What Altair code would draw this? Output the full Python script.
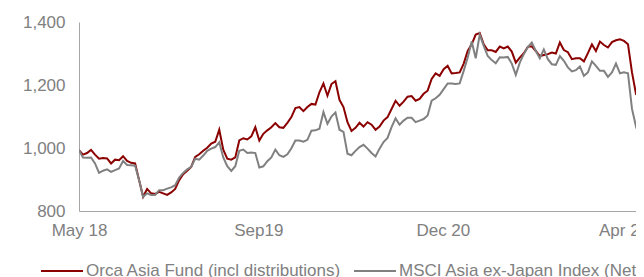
import altair as alt
import pandas as pd

series_names = ["Orca Asia Fund (incl distributions)", "MSCI Asia ex-Japan Index (Net)"]
series_colors = ["#8B0000", "#808080"]

fund = [993, 979, 984, 994, 979, 966, 968, 967, 951, 963,
        961, 974, 959, 953, 951, 898, 845, 870, 856, 854,
        861, 856, 851, 859, 870, 898, 917, 928, 940, 972,
        980, 991, 1001, 1014, 1020, 1058, 995, 966, 963, 970,
        1024, 1031, 1027, 1037, 1066, 1024, 1045, 1056, 1066, 1079,
        1066, 1064, 1080, 1098, 1127, 1130, 1117, 1130, 1140, 1138,
        1177, 1205, 1166, 1203, 1212, 1153, 1130, 1082, 1054, 1064,
        1080, 1068, 1082, 1074, 1058, 1068, 1087, 1098, 1124, 1150,
        1134, 1147, 1163, 1165, 1150, 1156, 1172, 1182, 1219, 1237,
        1229, 1250, 1261, 1237, 1238, 1240, 1268, 1308, 1329, 1360,
        1365, 1329, 1310, 1310, 1305, 1322, 1316, 1322, 1306, 1271,
        1287, 1301, 1321, 1323, 1308, 1292, 1295, 1298, 1303, 1300,
        1335, 1311, 1304, 1282, 1285, 1285, 1275, 1301, 1329, 1308,
        1338, 1327, 1319, 1336, 1342, 1345, 1340, 1329, 1240, 1171,
        1166, 1156]

msci = [993, 970, 969, 970, 951, 921, 928, 932, 924, 930,
        935, 959, 946, 945, 944, 898, 845, 856, 851, 851,
        866, 866, 871, 875, 882, 906, 921, 932, 940, 966,
        963, 976, 991, 998, 1003, 1018, 970, 942, 927, 942,
        991, 995, 984, 986, 984, 938, 942, 958, 970, 995,
        977, 972, 980, 999, 1024, 1024, 1020, 1026, 1055, 1056,
        1061, 1114, 1077, 1100, 1113, 1058, 1051, 982, 977, 991,
        1003, 1010, 998, 984, 973, 998, 1019, 1032, 1066, 1094,
        1074, 1087, 1096, 1096, 1082, 1087, 1092, 1103, 1150, 1158,
        1169, 1187, 1205, 1205, 1203, 1205, 1245, 1287, 1338, 1285,
        1360, 1324, 1292, 1279, 1269, 1288, 1287, 1289, 1268, 1232,
        1271, 1298, 1320, 1335, 1308, 1285, 1313, 1282, 1266, 1264,
        1292, 1277, 1256, 1243, 1247, 1259, 1229, 1240, 1275, 1261,
        1245, 1245, 1226, 1240, 1268, 1237, 1240, 1237, 1124, 1068,
        1087, 1082]

tick_pos = [0, 44.75, 90.8, 135.9]
tick_labels = ["May 18", "Sep19", "Dec 20", "Apr 22"]
y_ticks = [800, 1000, 1200, 1400]

rows = []
for name, vals in zip(series_names, [fund, msci]):
    for i, v in enumerate(vals):
        rows.append({"series": name, "idx": i, "value": v})
df = pd.DataFrame(rows)

FONT = "Liberation Sans"
TXT = "#808080"

label_expr = "{}[indexof({}, datum.value)]".format(
    "[" + ",".join("'" + t + "'" for t in tick_labels) + "]",
    "[" + ",".join(str(p) for p in tick_pos) + "]",
)

base = alt.Chart(df).mark_line(strokeWidth=2, clip=True).encode(
    x=alt.X("idx:Q",
            scale=alt.Scale(domain=[0, 139], nice=False, zero=False),
            axis=alt.Axis(values=tick_pos, labelExpr=label_expr, title=None,
                          grid=False, ticks=False, labelFlush=False,
                          labelPadding=11, labelFontSize=17, labelColor=TXT,
                          labelFont=FONT, domainColor="#A6A6A6", domainWidth=1,
                          labelOverlap=False)),
    y=alt.Y("value:Q",
            scale=alt.Scale(domain=[800, 1400], nice=False, zero=False),
            axis=alt.Axis(values=y_ticks, format=",d", title=None, grid=False,
                          ticks=False, labelPadding=14, labelFontSize=17,
                          labelColor=TXT, labelFont=FONT,
                          domainColor="#A6A6A6", domainWidth=1)),
    color=alt.Color("series:N",
                    scale=alt.Scale(domain=series_names, range=series_colors),
                    legend=alt.Legend(title=None, orient="none", legendX=-39,
                                      legendY=227, direction="horizontal",
                                      symbolType="stroke", symbolSize=1764,
                                      symbolStrokeWidth=2, labelFontSize=17,
                                      labelColor=TXT, labelFont=FONT,
                                      labelOffset=2, columnPadding=8,
                                      padding=0, labelLimit=400)),
)

chart = alt.layer(
    base.transform_filter(alt.datum.series == series_names[0]),
    base.transform_filter(alt.datum.series == series_names[1]),
).properties(
    width=557, height=189,
    autosize=alt.AutoSizeParams(type="none"),
    padding={"left": 71, "top": 14, "right": 0, "bottom": 80},
).configure_view(stroke=None)

chart.save("out.html", embed_options={"renderer": "svg", "actions": False})
